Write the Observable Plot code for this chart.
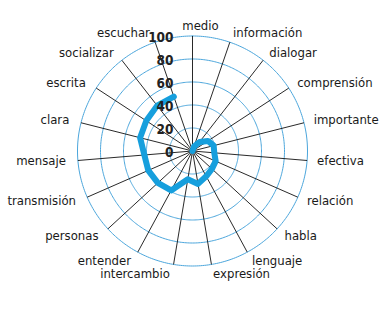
<!DOCTYPE html>
<html>
<head>
<meta charset="utf-8">
<script src="https://cdn.jsdelivr.net/npm/d3@7"></script>
<script src="https://cdn.jsdelivr.net/npm/@observablehq/plot@0.6"></script>
<style>
  html, body { margin: 0; padding: 0; background: #fff; }
  #chart { width: 389px; height: 315px; }
</style>
</head>
<body>
<div id="chart"></div>
<script>
const categories = ["medio", "información", "dialogar", "comprensión", "importante", "efectiva",
  "relación", "habla", "lenguaje", "expresión", "intercambio", "entender", "personas",
  "transmisión", "mensaje", "clara", "escrita", "socializar", "escuchar"];
const values = [0, 4, 10, 16, 19, 19, 22, 23, 25, 29, 25, 39, 41, 42, 42, 47, 48, 50, 50];
const ringTicks = [20, 40, 60, 80, 100];
const tickValues = [0, 20, 40, 60, 80, 100];
const tickLabels = ["0", "20", "40", "60", "80", "100"];

const n = categories.length;
const maxV = 100;
const labelR = 108.7;
const ang = i => (i * 2 * Math.PI) / n;

const data = categories.map((c, i) => ({
  cat: c, v: values[i],
  x: values[i] * Math.sin(ang(i)), y: values[i] * Math.cos(ang(i))
}));
const spokes = categories.map((c, i) => ({
  x2: maxV * Math.sin(ang(i)), y2: maxV * Math.cos(ang(i))
}));
const labels = categories.map((c, i) => {
  const s = Math.sin(ang(i));
  return {
    cat: c,
    x: labelR * s, y: labelR * Math.cos(ang(i)),
    anchor: Math.abs(s) < 0.05 ? "middle" : (s > 0 ? "start" : "end")
  };
});
const rings = ringTicks.flatMap(t => d3.range(0, 361).map(a => ({
  t, x: t * Math.sin(a * Math.PI / 180), y: t * Math.cos(a * Math.PI / 180)
})));
const ticks = tickValues.map((t, i) => ({ y: t, label: tickLabels[i] }));

const font = '"Liberation Sans Narrow", "Arial Narrow", "DejaVu Sans Condensed", sans-serif';

const chart = Plot.plot({
  width: 389,
  height: 315,
  margin: 0,
  x: { domain: [-192 / 1.15, (389 - 192) / 1.15], range: [0, 389], axis: null },
  y: { domain: [-(315 - 150.5) / 1.15, 150.5 / 1.15], range: [315, 0], axis: null },
  style: { fontFamily: font, background: "#fff" },
  marks: [
    Plot.line(rings, { x: "x", y: "y", z: "t", stroke: "#4ba6dc", strokeWidth: 1 }),
    Plot.link(spokes, { x1: 0, y1: 0, x2: "x2", y2: "y2", stroke: "#111", strokeWidth: 0.9 }),
    Plot.line(data, { x: "x", y: "y", stroke: "#169fdd", strokeWidth: 6,
      strokeLinejoin: "round", strokeLinecap: "round", curve: "linear" }),
    Plot.text(ticks, { x: 0, y: "y", text: "label", textAnchor: "end", dx: -19, dy: 2,
      fontSize: 13.5, fontWeight: "bold", fill: "#222" }),
    Plot.text(labels.filter(d => d.anchor === "start"), { x: "x", y: "y", text: "cat",
      textAnchor: "start", fontSize: 13, fill: "#1a1a1a" }),
    Plot.text(labels.filter(d => d.anchor === "end"), { x: "x", y: "y", text: "cat",
      textAnchor: "end", dx: -2, fontSize: 13, fill: "#1a1a1a" }),
    Plot.text(labels.filter(d => d.anchor === "middle"), { x: "x", y: "y", text: "cat",
      textAnchor: "middle", dx: 8, fontSize: 13, fill: "#1a1a1a" })
  ]
});
document.getElementById("chart").appendChild(chart);
</script>
</body>
</html>
